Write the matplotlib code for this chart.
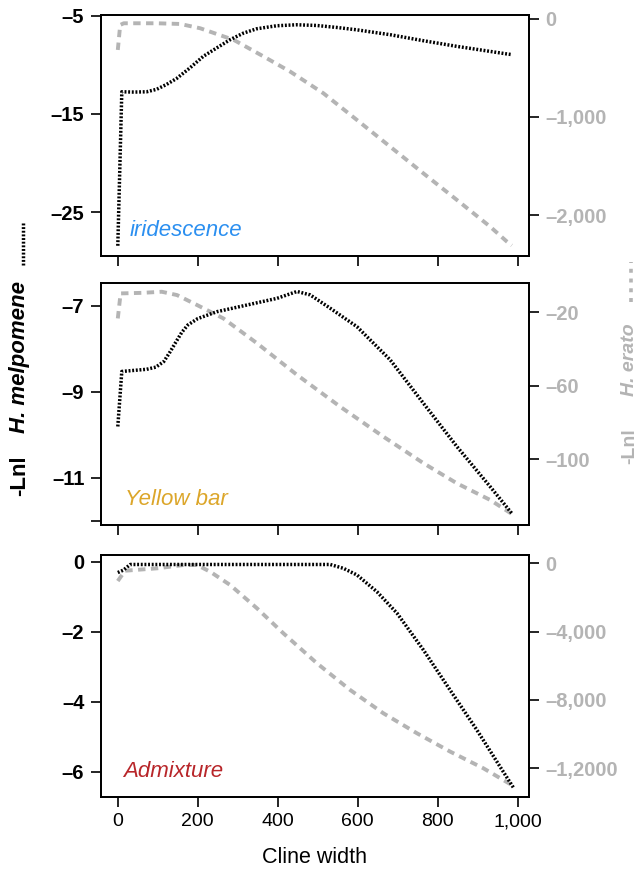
import numpy as np
import matplotlib
matplotlib.use("Agg")
import matplotlib.pyplot as plt
from matplotlib.lines import Line2D

plt.rcParams["font.family"] = ["Liberation Sans", "DejaVu Sans"]

# cline width grid, per panel and species
irid_mel_x = [0, 10, 40, 72, 97, 122, 147, 181, 214, 247, 281, 314, 347, 397, 447, 497, 547, 597, 681, 764, 847, 972, 985]
irid_mel_y = [-28.4, -12.75, -12.78, -12.75, -12.5, -12.0, -11.4, -10.3, -9.14, -8.3, -7.45, -6.79, -6.35, -6.04,
              -5.94, -6.01, -6.21, -6.45, -6.95, -7.56, -8.13, -8.9, -8.97]
irid_era_x = [0, 6, 15, 97, 156, 206, 290, 365, 431, 514, 598, 681, 764, 848, 931, 973, 985]
irid_era_y = [-316, -61, -44, -44, -51, -95, -214, -384, -537, -758, -1031, -1303, -1575, -1847, -2119, -2272, -2310]

ybar_mel_x = [0, 10, 72, 95, 115, 131, 145, 160, 175, 200, 248, 306, 398, 448, 481, 531, 598, 681, 764, 848, 931, 985]
ybar_mel_y = [-9.81, -8.53, -8.48, -8.43, -8.3, -8.07, -7.85, -7.62, -7.45, -7.3, -7.14, -7.02, -6.83, -6.67, -6.75,
              -7.06, -7.49, -8.26, -9.27, -10.28, -11.21, -11.83]
ybar_era_x = [0, 7, 60, 110, 148, 198, 264, 348, 448, 556, 664, 764, 848, 931, 985]
ybar_era_y = [-23.3, -9.7, -9.4, -8.8, -10.6, -16, -23.3, -36.8, -54, -71.3, -87.6, -102, -113, -122, -129.6]

admx_mel_x = [0, 14, 31, 300, 531, 564, 598, 648, 698, 764, 831, 898, 956, 989]
admx_mel_y = [-0.31, -0.24, -0.08, -0.08, -0.08, -0.19, -0.38, -0.86, -1.47, -2.52, -3.67, -4.81, -5.86, -6.45]
admx_era_x = [0, 18, 98, 164, 198, 231, 281, 348, 414, 498, 581, 664, 748, 831, 914, 985]
admx_era_y = [-1037, -433, -293, -100, -100, -492, -1271, -2635, -4100, -5857, -7420, -8785, -9956, -11030,
              -12006, -12986]

panel_names = ["iridescence", "Yellow bar", "Admixture"]
panel_colors = ["#2b8ff0", "#dca62a", "#b8262a"]

left_ticks = [[-5, -15, -25], [-7, -9, -11, -12], [0, -2, -4, -6]]
left_labels = [["–5", "–15", "–25"], ["–7", "–9", "–11", ""], ["0", "–2", "–4", "–6"]]
right_ticks = [[0, -1000, -2000], [-20, -60, -100], [0, -4000, -8000, -12000]]
right_labels = [["0", "–1,000", "–2,000"], ["–20", "–60", "–100"], ["0", "–4,000", "–8,000", "–1,2000"]]

x_ticks = [0, 200, 400, 600, 800, 1000]
x_labels = ["0", "200", "400", "600", "800", "1,000"]

left_lims = [(-29.44, -4.95), (-12.1, -6.48), (-6.71, 0.19)]
right_lims = [(-2418, 40), (-135.6, -4.2), (-13670, 486)]

mel = [(irid_mel_x, irid_mel_y), (ybar_mel_x, ybar_mel_y), (admx_mel_x, admx_mel_y)]
era = [(irid_era_x, irid_era_y), (ybar_era_x, ybar_era_y), (admx_era_x, admx_era_y)]

GREY = "#b4b4b4"
DOT = dict(color="black", lw=2.5, linestyle=(0, (0.55, 0.5)), dash_capstyle="butt")
DASH = dict(color=GREY, lw=2.8, linestyle=(0, (1.9, 1.4)), dash_capstyle="butt")

fig = plt.figure(figsize=(6.4, 8.69), dpi=100)
boxes = [(0.7054, 0.9827), (0.3959, 0.674), (0.0832, 0.3613)]
left, right = 101 / 640, 529 / 640
name_x = [0.068, 0.056, 0.051]

for i, (b, t) in enumerate(boxes):
    ax = fig.add_axes([left, b, right - left, t - b])
    ax2 = ax.twinx()
    ax.set_zorder(ax2.get_zorder() + 1)
    ax.patch.set_visible(False)

    ax2.plot(era[i][0], era[i][1], **DASH)
    ax.plot(mel[i][0], mel[i][1], **DOT)

    ax.set_xlim(-42, 1028)
    ax.set_ylim(*left_lims[i])
    ax2.set_ylim(*right_lims[i])

    ax.set_xticks(x_ticks)
    if i == 2:
        ax.set_xticklabels(x_labels, fontsize=14)
        ax.set_xlabel("Cline width", fontsize=15.5, labelpad=12)
    else:
        ax.set_xticklabels([])

    ax.set_yticks(left_ticks[i])
    ax.set_yticklabels(left_labels[i], fontsize=14.5, fontweight="bold")
    ax2.set_yticks(right_ticks[i])
    ax2.set_yticklabels(right_labels[i], fontsize=14.5, fontweight="bold", color=GREY)

    ax.tick_params(axis="both", direction="out", length=7, width=1.2, pad=5)
    ax2.tick_params(axis="y", direction="out", length=7, width=1.2, pad=5)
    for a in (ax, ax2):
        for s in a.spines.values():
            s.set_linewidth(1.3)

    ax.text(name_x[i], 0.082, panel_names[i], transform=ax.transAxes, fontsize=16,
            style="italic", color=panel_colors[i], ha="left", va="baseline")

# rotated axis titles with line samples
fy = lambda py: 1 - py / 869
fig.text(20 / 640, fy(476), "-Lnl", rotation=90, ha="center", va="center",
         fontsize=16, fontweight="bold")
fig.text(20 / 640, fy(357), "H. melpomene", rotation=90, ha="center", va="center",
         fontsize=16, fontweight="bold", style="italic")
fig.add_artist(Line2D([23 / 640, 23 / 640], [fy(265), fy(222)], transform=fig.transFigure, **DOT))

fig.text(630 / 640, fy(446), "-Lnl", rotation=90, ha="center", va="center",
         fontsize=14, fontweight="bold", color=GREY)
fig.text(630 / 640, fy(360), "H. erato", rotation=90, ha="center", va="center",
         fontsize=14, fontweight="bold", style="italic", color=GREY)
fig.add_artist(Line2D([631 / 640, 631 / 640], [fy(302), fy(262)], transform=fig.transFigure,
                      color=GREY, lw=2.6, linestyle=(0, (1.1, 1.6)), dash_capstyle="butt"))

fig.savefig("out.png", dpi=100)
